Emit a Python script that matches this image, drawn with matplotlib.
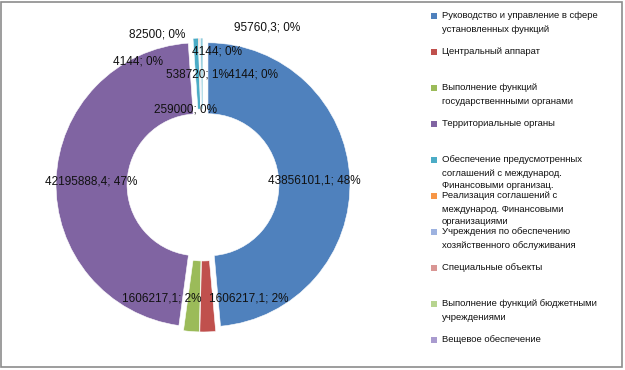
import matplotlib
matplotlib.use('Agg')
import matplotlib.pyplot as plt
from matplotlib.patches import Rectangle
import numpy as np

# ---------------- data ----------------
categories = [
    "Руководство и управление в сфере\nустановленных функций",
    "Центральный аппарат",
    "Выполнение функций\nгосударственнными органами",
    "Территориальные органы",
    "Обеспечение предусмотренных\nсоглашений с международ.\nФинансовыми организац.",
    "Реализация соглашений с\nмеждународ. Финансовыми\nорганизациями",
    "Учреждения по обеспечению\nхозяйственного обслуживания",
    "Специальные объекты",
    "Выполнение функций бюджетными\nучреждениями",
    "Вещевое обеспечение",
    "",
]
values = [43856101.1, 1606217.1, 1606217.1, 42195888.4, 538720, 95760.3,
          4144, 4144, 4144, 82500, 259000]
percents = [48, 2, 2, 47, 1, 0, 0, 0, 0, 0, 0]

# ---------------- style ----------------
colors = ["#4F81BD", "#C0504D", "#9BBB59", "#8064A2", "#4BACC6", "#F79646",
          "#9DB2E0", "#D99694", "#B7D48F", "#A99BCF", "#93CDDD"]
legend_count = 10

W, H = 625, 370
fig = plt.figure(figsize=(W / 100, H / 100), dpi=100)
fig.patch.set_facecolor("white")

# pie geometry in pixels
cx, cy, R = 203, 185, 142
half = 170
ax = fig.add_axes([(cx - half) / W, (H - cy - half) / H, 2 * half / W, 2 * half / H])

wedges, _ = ax.pie(values, colors=colors, startangle=90, counterclock=False,
                   radius=1.0, explode=[0.035] * len(values),
                   wedgeprops=dict(width=0.5, edgecolor="white", linewidth=0.4))
ax.set_xlim(-half / R, half / R)
ax.set_ylim(-half / R, half / R)
ax.set_aspect("equal")
ax.axis("off")


def fmt(v):
    if float(v).is_integer():
        return str(int(v))
    return f"{v:.1f}".replace(".", ",")


# label placement (Excel nudged the crowded labels); in pie-radius units
label_pos_override = {
    1: (0.32, -0.80),
    2: (-0.29, -0.80),
    4: (-0.04, 0.78),
    5: (0.45, 1.11),
    6: (0.10, 0.94),
    7: (0.35, 0.78),
    8: (-0.46, 0.87),
    9: (-0.32, 1.06),
    10: (-0.12, 0.53),
}
for i, w in enumerate(wedges):
    if i in label_pos_override:
        x, y = label_pos_override[i]
    else:
        ang = np.deg2rad((w.theta1 + w.theta2) / 2)
        r = 0.75 + 0.035
        x, y = r * np.cos(ang), r * np.sin(ang)
    ax.text(x, y, f"{fmt(values[i])}; {percents[i]}%", ha="center", va="center",
            fontsize=8.5, family="Liberation Sans", color="#111111")

# manual legend
sw = 6
for i in range(legend_count):
    y0 = 16 + 36 * i
    fig.patches.append(Rectangle((431 / W, (H - y0 - sw / 2) / H), sw / W, sw / H,
                                 transform=fig.transFigure, facecolor=colors[i],
                                 edgecolor="none"))
    for j, line in enumerate(categories[i].split("\n")):
        fig.text(442 / W, (H - (y0 + 13 * j)) / H, line, ha="left", va="center",
                 fontsize=6.8, family="Liberation Sans", color="#111111")

# chart border
fig.patches.append(Rectangle((1 / W, 3 / H), (W - 4) / W, (H - 5) / H,
                             transform=fig.transFigure, facecolor="none",
                             edgecolor="#8c8c8c", linewidth=1.2))

fig.savefig("out.png", dpi=100)
